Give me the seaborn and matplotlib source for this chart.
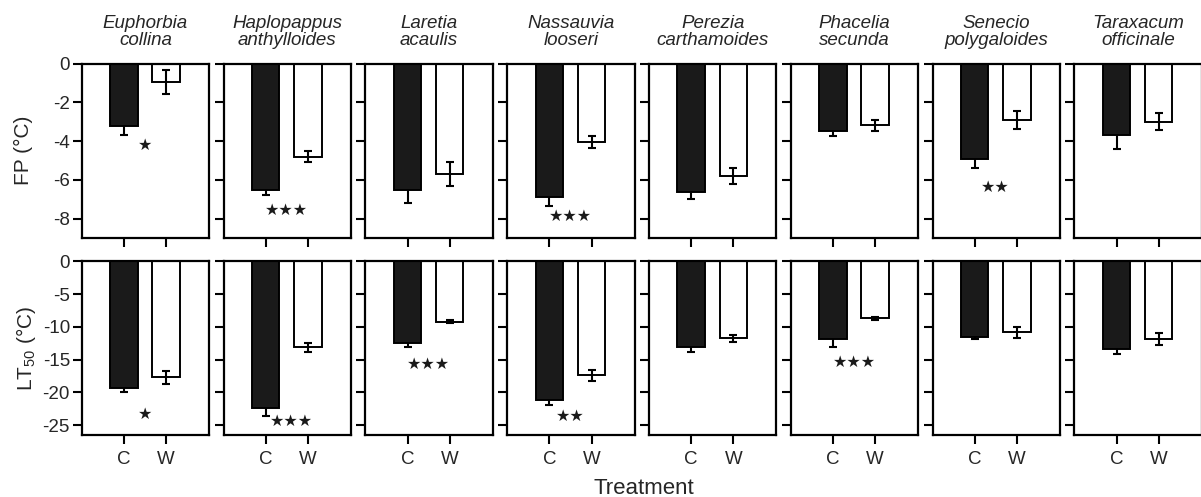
import matplotlib
matplotlib.use("Agg")
import matplotlib.pyplot as plt
import seaborn as sns
import pandas as pd

sns.set_style("ticks")
plt.rcParams["font.family"] = ["Liberation Sans", "DejaVu Sans"]
plt.rcParams["axes.unicode_minus"] = False

species = ["Euphorbia\ncollina", "Haplopappus\nanthylloides", "Laretia\nacaulis",
           "Nassauvia\nlooseri", "Perezia\ncarthamoides", "Phacelia\nsecunda",
           "Senecio\npolygaloides", "Taraxacum\nofficinale"]
treatments = ["C", "W"]

fp_c = [-3.2, -6.55, -6.55, -6.9, -6.65, -3.5, -4.9, -3.7]
fp_c_err = [0.47, 0.25, 0.63, 0.45, 0.34, 0.25, 0.51, 0.72]
fp_w = [-0.95, -4.8, -5.7, -4.05, -5.8, -3.18, -2.9, -3.0]
fp_w_err = [0.6, 0.3, 0.6, 0.33, 0.43, 0.29, 0.46, 0.43]

lt_c = [-19.3, -22.35, -12.5, -21.2, -13.1, -11.9, -11.5, -13.4]
lt_c_err = [0.65, 1.2, 0.6, 0.75, 0.75, 1.15, 0.4, 0.75]
lt_w = [-17.7, -13.15, -9.2, -17.4, -11.75, -8.7, -10.85, -11.9]
lt_w_err = [1.0, 0.65, 0.2, 0.8, 0.5, 0.2, 0.8, 0.9]

# significance labels: (panel index, number of stars, x, y)
sig_fp = [(0, 1, 0.5, -4.2), (1, 3, 0.5, -7.6), (3, 3, 0.5, -7.9), (6, 2, 0.5, -6.4)]
sig_lt = [(0, 1, 0.5, -23.3), (1, 3, 0.6, -24.5), (2, 3, 0.5, -15.7),
          (3, 2, 0.5, -23.7), (5, 3, 0.5, -15.5)]

rows = [
    dict(c=fp_c, ce=fp_c_err, w=fp_w, we=fp_w_err, ylim=(-9, 0), ticks=[0, -2, -4, -6, -8],
         ylabel="FP (°C)", sig=sig_fp, labx=-0.382),
    dict(c=lt_c, ce=lt_c_err, w=lt_w, we=lt_w_err, ylim=(-26.5, 0), ticks=[0, -5, -10, -15, -20, -25],
         ylabel=r"$\mathregular{LT_{50}}$ (°C)", sig=sig_lt, labx=-0.345),
]

W, H = 1201, 497
fig = plt.figure(figsize=(W / 100, H / 100), dpi=100)

lefts = [81.7 + i * 141.8 for i in range(8)]
pw = 127.5
row_boxes = [(63.5, 238.0), (261.3, 435.0)]

palette = {"C": "#1a1a1a", "W": "white"}

for r, row in enumerate(rows):
    top, bot = row_boxes[r]
    for i, sp in enumerate(species):
        ax = fig.add_axes([lefts[i] / W, 1 - bot / H, pw / W, (bot - top) / H])
        df = pd.DataFrame({"treatment": treatments,
                           "value": [row["c"][i], row["w"][i]],
                           "err": [row["ce"][i], row["we"][i]]})
        sns.barplot(data=df, x="treatment", y="value", hue="treatment", palette=palette,
                    order=treatments, hue_order=treatments, dodge=False, width=0.65,
                    edgecolor="black", linewidth=1.4, errorbar=None, legend=False, ax=ax)
        for p in ax.patches:
            p.set_zorder(2)
        # control: only the lower whisker shows below the dark bar
        ax.errorbar(x=[0], y=[row["c"][i]], yerr=[row["ce"][i]], fmt="none", ecolor="black",
                    elinewidth=1.5, capsize=3, capthick=1.5, zorder=1)
        ax.errorbar(x=[1], y=[row["w"][i]], yerr=[row["we"][i]], fmt="none", ecolor="black",
                    elinewidth=1.5, capsize=3, capthick=1.5, zorder=5)
        ax.set_xlim(-1.0, 2.02)
        ax.set_ylim(*row["ylim"])
        ax.set_yticks(row["ticks"])
        ax.set_xlabel("")
        ax.set_ylabel("")
        for s in ax.spines.values():
            s.set_linewidth(1.6)
            s.set_color("black")
            s.set_visible(True)
            s.set_zorder(6)
        ax.tick_params(axis="both", direction="out", length=6.5, width=1.5, color="black",
                       labelsize=13.5, pad=2)
        if i == 0:
            ax.set_yticklabels([str(t) for t in row["ticks"]])
            ax.set_ylabel(row["ylabel"], fontsize=15)
            ax.yaxis.set_label_coords(row["labx"], 0.5)
        else:
            ax.set_yticklabels([])
        if r == 0:
            ax.set_xticklabels([])
            ax.set_title(sp, fontsize=13.5, style="italic", pad=13, linespacing=1.05)
        else:
            ax.tick_params(axis="x", pad=5)
        for (k, n, x, y) in row["sig"]:
            if k == i:
                ax.text(x, y, "\u2605" * n, ha="center", va="center", fontsize=11.5,
                        family="DejaVu Sans", color="#1a1a1a")

fig.text(644 / W, 1 - 488 / H, "Treatment", ha="center", va="center", fontsize=16)

fig.savefig("out.png", dpi=100)
